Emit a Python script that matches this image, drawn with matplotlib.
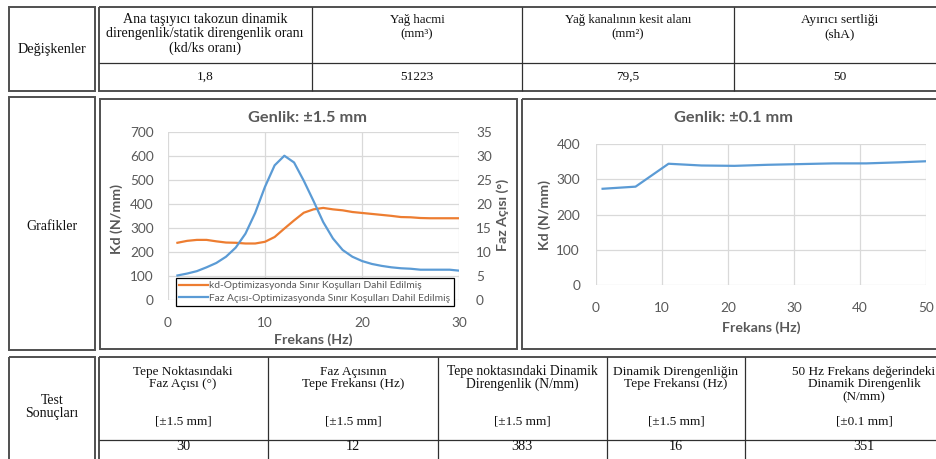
import matplotlib
matplotlib.use("Agg")
import matplotlib.pyplot as plt
from matplotlib.patches import Rectangle
from matplotlib.lines import Line2D

# ---- data -------------------------------------------------------------
freq_15 = list(range(1, 31))
kd_15 = [238, 246, 250, 250, 244, 239, 238, 235, 235, 242,
         262, 297, 331, 363, 377, 383, 377, 373, 366, 362,
         358, 354, 350, 345, 344, 341, 340, 340, 340, 340]
phase_15 = [5.1, 5.5, 6.0, 6.8, 7.7, 9.0, 10.9, 13.8, 18.1, 23.5,
            28.0, 30.0, 28.6, 24.8, 20.6, 16.2, 12.8, 10.4, 9.0, 8.1,
            7.5, 7.1, 6.8, 6.6, 6.5, 6.3, 6.3, 6.3, 6.3, 6.1]

freq_01 = [1, 6, 11, 16, 21, 26, 31, 36, 41, 46, 50]
kd_01 = [273, 279, 344, 339, 338, 341, 343, 345, 345, 348, 351]

var_headers = [
    ["Ana taşıyıcı takozun dinamik", "direngenlik/statik direngenlik oranı", "(kd/ks oranı)"],
    ["Yağ hacmi", "(mm³)"],
    ["Yağ kanalının kesit alanı", "(mm²)"],
    ["Ayırıcı sertliği", "(shA)"],
]
var_values = ["1,8", "51223", "79,5", "50"]

res_headers = [
    ["Tepe Noktasındaki", "Faz Açısı (°)", ""],
    ["Faz Açısının", "Tepe Frekansı (Hz)", ""],
    ["Tepe noktasındaki Dinamik", "Direngenlik (N/mm)", ""],
    ["Dinamik Direngenliğin", "Tepe Frekansı (Hz)", ""],
    ["50 Hz Frekans değerindeki", "Dinamik Direngenlik", "(N/mm)"],
]
res_amplitudes = ["[±1.5 mm]", "[±1.5 mm]", "[±1.5 mm]", "[±1.5 mm]", "[±0.1 mm]"]
res_values = ["30", "12", "383", "16", "351"]

legend_labels = ["kd-Optimizasyonda Sınır Koşulları Dahil Edilmiş",
                 "Faz Açısı-Optimizasyonda Sınır Koşulları Dahil Edilmiş"]

# ---- figure & page layer (pixel coordinates) --------------------------
W, H = 936, 459
fig = plt.figure(figsize=(W / 100, H / 100), dpi=100)
bg = fig.add_axes([0, 0, 1, 1])
bg.set_xlim(0, W)
bg.set_ylim(H, 0)
bg.axis("off")

SERIF = "Liberation Serif"
FRAME = "#505050"
RULE = "#303030"


def box(x0, y0, x1, y1, lw=1.4, color=FRAME):
    bg.add_patch(Rectangle((x0, y0), x1 - x0, y1 - y0, fill=False,
                           lw=lw, ec=color, clip_on=True))


def hline(y, x0, x1, lw=0.9, color=RULE):
    bg.plot([x0, x1], [y, y], color=color, lw=lw, solid_capstyle="butt")


def vline(x, y0, y1, lw=0.9, color=RULE):
    bg.plot([x, x], [y0, y1], color=color, lw=lw, solid_capstyle="butt")


def ttext(x, y, s, fs=9.3):
    bg.text(x, y, s, ha="center", va="center", fontsize=fs,
            family=SERIF, color="#111111")


# top table: variables
box(9, 7, 95, 91)
ttext(52, 49, "Değişkenler", fs=10.3)
box(99, 7, 950, 91)
hline(63, 99, 950)
top_cols = [99, 312, 522, 734, 950]
for x in top_cols[1:-1]:
    vline(x, 7, 91)
top_centers = [205, 417, 628, 840]
top_sizes = [10.1, 9.3, 9.3, 9.6]
for cx, lines, val, fs in zip(top_centers, var_headers, var_values, top_sizes):
    for i, ln in enumerate(lines):
        ttext(cx, 20 + 14 * i, ln, fs=fs)
    ttext(cx, 77, val, fs=9.6)

# middle section
box(9, 97, 95, 350)
ttext(52, 227, "Grafikler", fs=10.0)
box(100, 99, 517, 349)
box(522, 99, 950, 349)

# bottom table: results
box(9, 357, 95, 470)
ttext(52, 401, "Test", fs=10.0)
ttext(52, 413.5, "Sonuçları", fs=10.0)
box(99, 357, 990, 470)
hline(440, 99, 990)
bot_cols = [99, 268, 438, 607, 745]
for x in bot_cols[1:]:
    vline(x, 357, 470)
bot_centers = [183, 353, 522, 676, 864]
bot_sizes = [9.5, 9.5, 9.8, 9.6, 9.5]
for cx, lines, amp, val, fs in zip(bot_centers, res_headers, res_amplitudes,
                                   res_values, bot_sizes):
    for i, ln in enumerate(lines):
        if ln:
            ttext(cx, 372 + 12.5 * i, ln, fs=fs)
    ttext(cx, 422, amp, fs=9.5)
    ttext(cx, 447, val, fs=10.2)

# ---- chart styling ----------------------------------------------------
SANS = "Lato"
GRAY = "#595959"
GRID = "#d9d9d9"
ORANGE = "#ED7D31"
BLUE = "#5B9BD5"
TICK_FS = 9.8
LABEL_FS = 10.2
TITLE_FS = 11.8


def px_axes(x0, y0, x1, y1):
    return fig.add_axes([x0 / W, 1 - y1 / H, (x1 - x0) / W, (y1 - y0) / H])


def style(ax):
    for s in ax.spines.values():
        s.set_visible(False)
    ax.grid(True, color=GRID, lw=0.9)
    ax.set_axisbelow(True)
    ax.tick_params(length=0, labelsize=TICK_FS, labelcolor=GRAY)
    for t in ax.get_xticklabels() + ax.get_yticklabels():
        t.set_family(SANS)


def label_kw():
    return dict(family=SANS, fontsize=LABEL_FS, fontweight="bold",
                color=GRAY, va="center")


# chart 1: amplitude 1.5 mm
ax1 = px_axes(167.7, 131.7, 459.3, 300)
ax1.plot(freq_15, kd_15, color=ORANGE, lw=1.6)
ax1.set_xlim(0, 30)
ax1.set_ylim(0, 700)
ax1.set_xticks([0, 10, 20, 30])
ax1.set_yticks(range(0, 701, 100))
style(ax1)
ax1.tick_params(axis="y", pad=10)
ax1.tick_params(axis="x", pad=12)
ax1.set_title("Genlik: ±1.5 mm", family=SANS, fontsize=TITLE_FS,
              fontweight="bold", color=GRAY, x=0.481, y=1.081,
              va="center", pad=0)
ax1.set_xlabel("Frekans (Hz)", **label_kw())
ax1.xaxis.set_label_coords(0.5, -0.238)
ax1.set_ylabel("Kd (N/mm)", **label_kw())
ax1.yaxis.set_label_coords(-0.174, 0.48)

ax1b = ax1.twinx()
ax1b.plot(freq_15, phase_15, color=BLUE, lw=1.6)
ax1b.set_ylim(0, 35)
ax1b.set_yticks(range(0, 36, 5))
for s in ax1b.spines.values():
    s.set_visible(False)
ax1b.tick_params(length=0, labelsize=TICK_FS, labelcolor=GRAY, pad=12)
for t in ax1b.get_yticklabels():
    t.set_family(SANS)
ax1b.set_ylabel("Faz Açısı (°)", **label_kw())
ax1b.yaxis.set_label_coords(1.15, 0.505)

handles = [Line2D([], [], color=ORANGE, lw=1.6),
           Line2D([], [], color=BLUE, lw=1.6)]
leg = ax1b.legend(handles, legend_labels, loc="upper left",
                  bbox_to_anchor=(176 / W, 1 - 278 / H),
                  bbox_transform=fig.transFigure,
                  prop={"family": SANS, "size": 7.4}, labelcolor=GRAY,
                  frameon=True, fancybox=False, framealpha=1,
                  edgecolor="black", borderpad=0.3, handlelength=2.8,
                  handletextpad=0.15, labelspacing=0.3, borderaxespad=0)
leg.get_frame().set_linewidth(0.9)

# chart 2: amplitude 0.1 mm
ax2 = px_axes(596, 144, 925.7, 285)
ax2.plot(freq_01, kd_01, color=BLUE, lw=1.6)
ax2.set_xlim(0, 50)
ax2.set_ylim(0, 400)
ax2.set_xticks(range(0, 51, 10))
ax2.set_yticks(range(0, 401, 100))
style(ax2)
ax2.tick_params(axis="y", pad=11.5)
ax2.tick_params(axis="x", pad=12)
ax2.set_title("Genlik: ±0.1 mm", family=SANS, fontsize=TITLE_FS,
              fontweight="bold", color=GRAY, x=0.416, y=1.184,
              va="center", pad=0)
ax2.set_xlabel("Frekans (Hz)", **label_kw())
ax2.xaxis.set_label_coords(0.5, -0.305)
ax2.set_ylabel("Kd (N/mm)", **label_kw())
ax2.yaxis.set_label_coords(-0.155, 0.50)

fig.savefig("out.png", dpi=100)
